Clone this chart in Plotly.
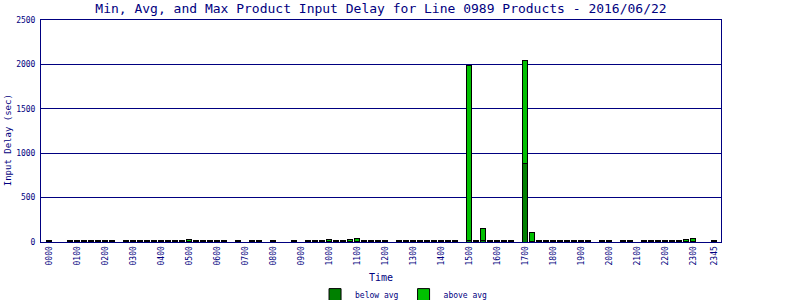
import plotly.graph_objects as go

N = None
# 15-minute slots from 0000 to 2345
slot_labels = [f"{h:02d}{m:02d}" for h in range(24) for m in (0, 15, 30, 45)]

below_avg = [
    9, N, N, 9, 9, 9, 9, 9, 9, 9, N, 9, 9, 9, 9, 9,
    9, 9, 9, 9, 8, 9, 9, 9, 9, 9, N, 9, N, 9, 9, N,
    9, N, N, 9, N, 9, 9, 9, 8, 9, 9, 8, 10, 9, 9, 9,
    9, N, 9, 9, 9, 9, 9, 9, 9, 9, 9, N, 15, 6, 20, 9,
    9, 9, 9, N, 886, 10, 6, 9, 9, 9, 9, 9, 9, 9, N, 9,
    9, N, 9, 9, N, 9, 9, 9, 9, 9, 9, 8, 10, N, N, 9,
]
above_avg = [
    6, N, N, 6, 6, 6, 6, 6, 6, 6, N, 6, 6, 6, 6, 6,
    6, 6, 6, 6, 22, 6, 6, 6, 6, 6, N, 6, N, 6, 6, N,
    6, N, N, 6, N, 6, 6, 6, 20, 6, 6, 20, 32, 6, 6, 6,
    6, N, 6, 6, 6, 6, 6, 6, 6, 6, 6, N, 1975, 16, 135, 6,
    6, 6, 6, N, 1160, 92, 16, 6, 6, 6, 6, 6, 6, 6, N, 6,
    6, N, 6, 6, N, 6, 6, 6, 6, 6, 6, 18, 30, N, N, 6,
]

tick_labels = [f"{h:02d}00" for h in range(24)] + ["2345"]
tick_slots = [slot_labels.index(t) for t in tick_labels]

NAVY = "#000080"
MONO = "DejaVu Sans Mono"
x = list(range(len(slot_labels)))

fig = go.Figure()
fig.add_trace(go.Bar(x=x, y=below_avg, name="below avg", width=0.85,
                     marker=dict(color="#008000", line=dict(color="black", width=1))))
fig.add_trace(go.Bar(x=x, y=above_avg, name="above avg", width=0.85,
                     marker=dict(color="#00c000", line=dict(color="black", width=1))))

fig.update_layout(
    width=800, height=300,
    margin=dict(l=41, r=79, t=20, b=58, autoexpand=False),
    barmode="stack",
    paper_bgcolor="white", plot_bgcolor="white",
    font=dict(family=MONO, color=NAVY, size=8),
    title=dict(text="Min, Avg, and Max Product Input Delay for Line 0989 Products - 2016/06/22",
               font=dict(family=MONO, size=13, color=NAVY),
               x=0.5, xref="paper", xanchor="center", y=0.972, yref="container", yanchor="middle"),
    showlegend=True,
    legend=dict(orientation="h", x=0.403, xanchor="left", y=0.018, yref="container", yanchor="middle",
                font=dict(family=MONO, size=8, color=NAVY), itemwidth=30,
                bgcolor="rgba(0,0,0,0)", traceorder="normal"),
    xaxis=dict(range=[-1.143, 96], tickmode="array", tickvals=tick_slots, ticktext=tick_labels,
               tickangle=-90, showgrid=False, zeroline=False, automargin=False,
               showline=True, linecolor=NAVY, linewidth=1, mirror=True,
               ticks="", tickfont=dict(family=MONO, size=8, color=NAVY)),
    yaxis=dict(range=[0, 2500], tickmode="linear", tick0=0, dtick=500, automargin=False,
               showgrid=True, gridcolor=NAVY, gridwidth=1, zeroline=False,
               showline=True, linecolor=NAVY, linewidth=1, mirror=True,
               ticks="", ticklabelstandoff=3, tickfont=dict(family=MONO, size=8, color=NAVY)),
    bargap=0.15,
    annotations=[
        dict(text="Time", xref="paper", yref="paper", x=0.5, y=-0.162, xanchor="center",
             yanchor="middle", showarrow=False, font=dict(family=MONO, size=10, color=NAVY)),
        dict(text="Input Delay (sec)", xref="paper", yref="paper", x=-0.048, y=0.46,
             xanchor="center", yanchor="middle", textangle=-90, showarrow=False,
             font=dict(family=MONO, size=9, color=NAVY)),
    ],
)

fig.write_html("out.html")
